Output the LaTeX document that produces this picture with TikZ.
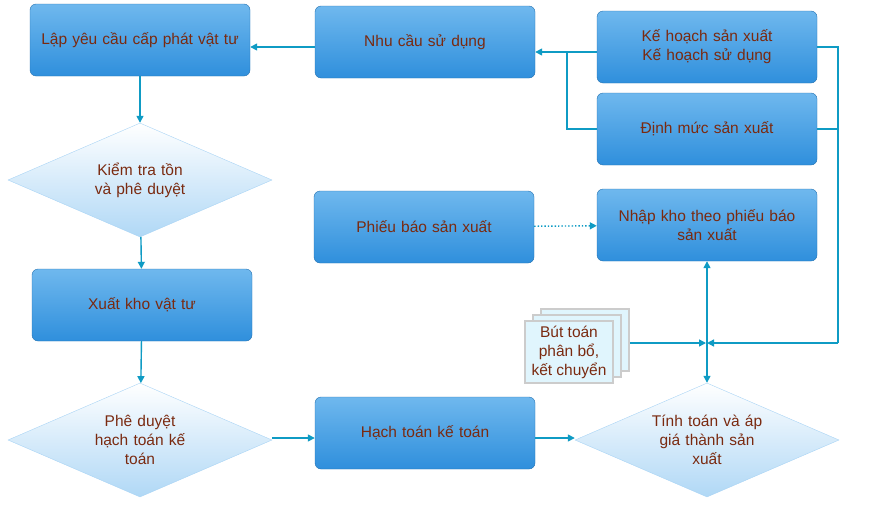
\documentclass[tikz,border=0pt]{standalone}
\usepackage{fontspec}
\setmainfont{Liberation Sans}
\usetikzlibrary{shapes.geometric,shapes.symbols,arrows.meta}
\definecolor{txt}{HTML}{7A2A10}
\definecolor{line}{HTML}{0F9BC4}
\definecolor{boxtop}{HTML}{6FB8EE}
\definecolor{boxbot}{HTML}{2F8FDC}
\tikzset{
  bluebox/.style={draw=boxbot!80!black, rounded corners=6pt, top color=boxtop, bottom color=boxbot,
    minimum width=220pt, minimum height=72pt, text width=214pt, inner xsep=2pt, align=center, text=txt},
  decide/.style={diamond, draw=boxtop!60!white, top color=white, bottom color=boxtop!55!white,
    minimum width=264pt, minimum height=114pt, aspect=2.3, inner sep=0pt, text width=130pt, align=center, text=txt},
  doc/.style={draw=black!20, line width=2pt, fill=cyan!12, minimum width=88pt, minimum height=62pt, align=center, text=txt, inner sep=1pt},
  conn/.style={line, line width=1.4pt, -{Triangle[length=7pt,width=7pt]}},
  plain/.style={line, line width=1.4pt}
}
\begin{document}
\begin{tikzpicture}[x=1pt,y=-1pt,font=\fontsize{15.5}{19}\selectfont]
\useasboundingbox (0,0) rectangle (877,506);
% nodes
\node[bluebox, text width=200pt] (lap) at (140,40) {Lập yêu cầu cấp phát vật tư};
\node[bluebox] (nhucau) at (425,42) {Nhu cầu sử dụng};
\node[bluebox] (kehoach) at (707,47) {Kế hoạch sản xuất\\Kế hoạch sử dụng};
\node[bluebox] (dinhmuc) at (707,129) {Định mức sản xuất};
\node[decide] (kiemtra) at (140,180) {Kiểm tra tồn\\và phê duyệt};
\node[bluebox] (phieu) at (424,227) {Phiếu báo sản xuất};
\node[bluebox] (nhapkho) at (707,225) {Nhập kho theo phiếu báo\\sản xuất};
\node[bluebox] (xuatkho) at (142,305) {Xuất kho vật tư};
\node[decide] (pheduyet) at (140,440) {Phê duyệt\\hạch toán kế\\toán};
\node[bluebox] (hachtoan) at (425,433) {Hạch toán kế toán};
\node[decide] (tinhtoan) at (707,440) {Tính toán và áp\\giá thành sản\\xuất};
\node[doc] (doc3) at (585,340) {};
\node[doc] (doc2) at (577,346) {};
\node[doc] (doc) at (569,352) {Bút toán\\phân bổ,\\kết chuyển};
\coordinate (join) at (707,343);
\coordinate (bus) at (838,343);
\coordinate (left) at (567,52);
% connectors
\draw[conn] (nhucau.west |- 0,47) -- (lap.east |- 0,47);
\draw[conn] (lap) -- (kiemtra);
\draw[conn] (kiemtra) -- (xuatkho);
\draw[conn] (xuatkho) -- (pheduyet);
\draw[conn] (pheduyet.east |- 0,438) -- (hachtoan.west |- 0,438);
\draw[conn] (hachtoan.east |- 0,438) -- (tinhtoan.west |- 0,438);
\draw[line, line width=1.4pt, dotted, -{Triangle[length=7pt,width=7pt]}] (phieu) -- (nhapkho);
\draw[plain] (kehoach.west |- 0,52) -| (left |- dinhmuc) -- (dinhmuc.west);
\draw[conn] (left) -- (nhucau.east |- left);
\draw[plain] (kehoach.east) -| (bus);
\draw[plain] (dinhmuc.east) -- (bus |- dinhmuc);
\draw[conn] (bus) -- (join);
\draw[conn] (doc3.east |- join) -- ([xshift=-1pt]join);
\draw[line, line width=1.4pt, {Triangle[length=7pt,width=7pt]}-{Triangle[length=7pt,width=7pt]}] (nhapkho) -- (tinhtoan);
\end{tikzpicture}
\end{document}
